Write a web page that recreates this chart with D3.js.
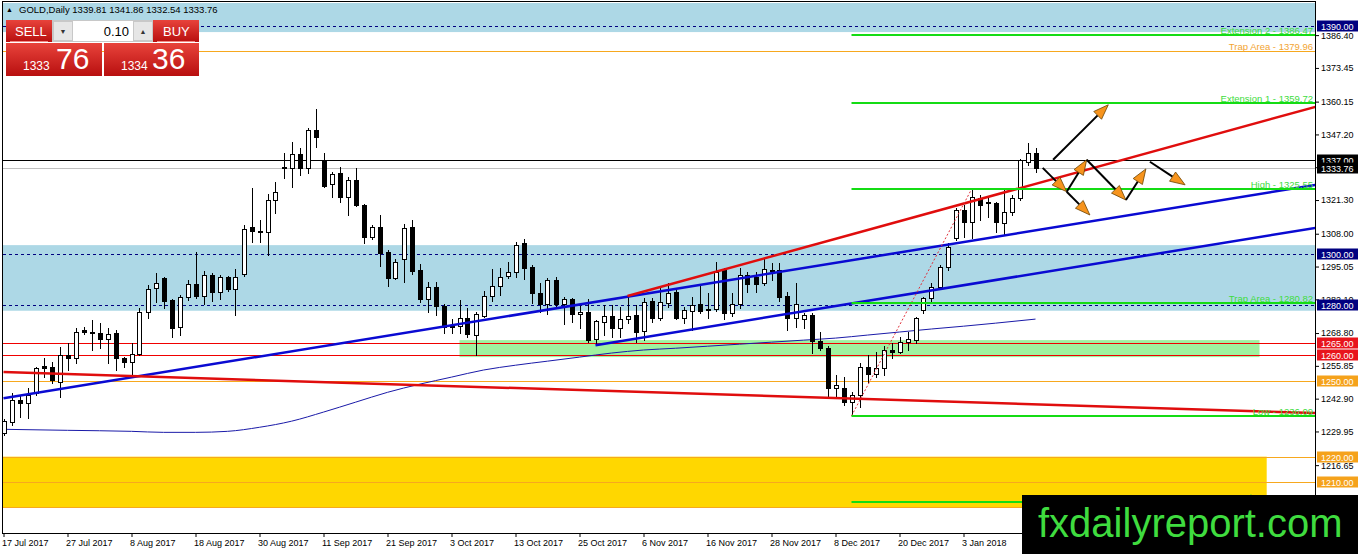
<!DOCTYPE html>
<html>
<head>
<meta charset="utf-8">
<script src="https://cdn.jsdelivr.net/npm/d3@7"></script>
<style>
html, body { margin: 0; padding: 0; background: #fff; }
svg { display: block; font-family: "Liberation Sans", Arial, sans-serif; }
</style>
</head>
<body>
<svg id="chart" width="1358" height="554"></svg>
<script>
var tickLabels = ["17 Jul 2017", "27 Jul 2017", "8 Aug 2017", "18 Aug 2017", "30 Aug 2017", "11 Sep 2017",
    "21 Sep 2017", "3 Oct 2017", "13 Oct 2017", "25 Oct 2017", "6 Nov 2017", "16 Nov 2017",
    "28 Nov 2017", "8 Dec 2017", "20 Dec 2017", "3 Jan 2018"];
var tickIndex = [0, 8, 16, 24, 32, 40, 48, 56, 64, 72, 80, 88, 96, 104, 112, 120];

var opens = [1229.2, 1233.6, 1242.3, 1241.1, 1245.1, 1255.7, 1255.3, 1249.4, 1260.1, 1258.9,
    1270.0, 1269.2, 1268.8, 1266.4, 1268.8, 1258.9, 1257.3, 1260.5, 1277.1, 1286.6,
    1290.5, 1281.8, 1271.1, 1283.0, 1288.1, 1283.4, 1291.7, 1285.0, 1290.9, 1286.2,
    1292.1, 1310.7, 1309.1, 1308.7, 1321.3, 1334.4, 1334.0, 1339.5, 1334.0, 1349.0,
    1336.8, 1327.7, 1332.0, 1322.5, 1329.3, 1319.4, 1306.7, 1310.7, 1300.8, 1290.5,
    1298.0, 1310.7, 1293.7, 1282.2, 1287.0, 1279.4, 1271.5, 1271.5, 1274.7, 1268.0,
    1275.5, 1283.4, 1287.4, 1291.3, 1292.9, 1304.3, 1294.9, 1284.6, 1280.2, 1289.7,
    1280.2, 1282.2, 1276.3, 1277.1, 1266.4, 1273.1, 1275.5, 1270.8, 1274.3, 1275.9,
    1269.6, 1281.4, 1274.7, 1280.6, 1285.0, 1274.7, 1277.5, 1280.2, 1278.3, 1278.3,
    1293.7, 1276.7, 1280.2, 1291.7, 1290.9, 1288.5, 1293.7, 1293.7, 1283.4, 1274.7,
    1274.3, 1275.9, 1265.6, 1262.8, 1247.0, 1247.0, 1241.5, 1244.3, 1255.3, 1252.6,
    1254.9, 1262.1, 1261.3, 1265.2, 1266.0, 1277.9, 1282.6, 1287.0, 1294.9, 1306.3,
    1317.4, 1312.7, 1322.1, 1320.6, 1320.2, 1312.3, 1316.6, 1322.1, 1336.4, 1339.81];
var highs = [1234.8, 1245.1, 1244.3, 1247.0, 1255.3, 1258.9, 1257.3, 1263.2, 1264.8, 1270.8,
    1271.2, 1273.9, 1272.7, 1270.8, 1270.0, 1259.3, 1264.8, 1278.7, 1287.7, 1292.5,
    1290.9, 1282.2, 1283.8, 1289.7, 1300.8, 1293.3, 1292.5, 1291.7, 1291.3, 1294.1,
    1311.5, 1326.1, 1313.4, 1323.7, 1328.5, 1339.9, 1344.3, 1341.9, 1349.8, 1357.3,
    1339.9, 1332.4, 1334.4, 1330.4, 1334.0, 1319.8, 1311.5, 1315.4, 1301.6, 1298.0,
    1311.9, 1313.4, 1296.0, 1288.9, 1288.9, 1280.2, 1274.3, 1281.8, 1278.7, 1277.1,
    1285.4, 1294.1, 1294.5, 1296.8, 1304.7, 1305.9, 1295.7, 1288.5, 1290.5, 1290.9,
    1283.0, 1282.6, 1279.8, 1282.2, 1273.9, 1279.8, 1279.8, 1279.1, 1283.8, 1279.8,
    1282.6, 1282.6, 1286.6, 1288.5, 1285.8, 1279.1, 1283.0, 1287.7, 1284.6, 1296.8,
    1294.5, 1284.6, 1294.5, 1292.9, 1292.9, 1298.4, 1296.4, 1296.4, 1285.0, 1288.5,
    1276.7, 1276.7, 1269.2, 1263.6, 1252.2, 1251.4, 1245.5, 1256.9, 1260.1, 1261.3,
    1263.6, 1264.8, 1267.2, 1269.2, 1275.1, 1283.0, 1288.5, 1295.7, 1304.3, 1318.2,
    1319.4, 1325.55, 1323.3, 1322.1, 1320.6, 1325.2, 1323.3, 1337.5, 1343.9, 1341.86];
var lows = [1228.5, 1232.4, 1235.6, 1235.2, 1244.3, 1251.4, 1249.0, 1243.5, 1254.2, 1256.9,
    1268.4, 1262.1, 1262.8, 1256.9, 1254.2, 1255.3, 1251.4, 1260.1, 1274.7, 1281.0,
    1278.7, 1267.2, 1268.0, 1281.8, 1282.6, 1280.2, 1281.4, 1282.2, 1285.4, 1275.9,
    1291.3, 1304.7, 1304.7, 1299.6, 1316.2, 1330.0, 1326.5, 1331.2, 1332.0, 1342.3,
    1326.5, 1322.5, 1320.6, 1315.4, 1319.0, 1304.3, 1305.9, 1295.3, 1287.4, 1290.1,
    1288.9, 1292.1, 1281.0, 1277.1, 1275.9, 1268.8, 1268.8, 1268.8, 1267.2, 1260.1,
    1275.1, 1281.4, 1283.8, 1290.5, 1290.9, 1290.1, 1280.6, 1277.1, 1276.3, 1278.7,
    1272.3, 1273.1, 1270.8, 1265.2, 1264.0, 1268.0, 1267.2, 1267.2, 1272.7, 1265.2,
    1266.0, 1273.1, 1273.9, 1279.1, 1274.3, 1272.7, 1270.0, 1276.7, 1274.7, 1277.5,
    1274.3, 1275.5, 1278.7, 1285.0, 1285.0, 1287.7, 1289.7, 1281.4, 1270.0, 1271.1,
    1270.8, 1260.9, 1262.1, 1243.5, 1243.5, 1240.3, 1236.09, 1239.5, 1249.4, 1251.4,
    1252.2, 1258.9, 1260.9, 1262.1, 1264.8, 1276.7, 1281.4, 1286.6, 1293.7, 1305.5,
    1306.7, 1306.3, 1313.4, 1314.6, 1308.7, 1307.5, 1315.4, 1321.3, 1335.2, 1332.54];
var closes = [1234.0, 1242.3, 1241.1, 1244.3, 1254.9, 1254.9, 1250.2, 1260.1, 1258.9, 1269.2,
    1269.2, 1268.8, 1266.4, 1268.4, 1258.9, 1257.3, 1260.5, 1277.1, 1286.2, 1288.5,
    1281.4, 1270.8, 1283.0, 1288.1, 1283.4, 1291.7, 1285.0, 1290.9, 1286.2, 1290.9,
    1309.9, 1309.1, 1308.7, 1321.3, 1324.5, 1334.0, 1339.5, 1334.0, 1349.0, 1346.2,
    1326.9, 1331.6, 1322.5, 1329.3, 1319.4, 1306.7, 1310.7, 1300.4, 1290.5, 1296.8,
    1310.3, 1293.3, 1282.2, 1287.0, 1279.4, 1271.1, 1271.1, 1274.7, 1268.4, 1276.3,
    1283.4, 1287.4, 1290.9, 1292.9, 1303.6, 1294.5, 1284.6, 1280.2, 1289.7, 1280.2,
    1282.2, 1276.3, 1277.1, 1266.0, 1273.5, 1275.5, 1270.8, 1274.3, 1275.5, 1269.2,
    1281.0, 1274.7, 1281.0, 1284.6, 1274.7, 1277.9, 1279.8, 1277.5, 1277.9, 1292.9,
    1276.7, 1280.2, 1291.7, 1288.1, 1288.1, 1294.1, 1293.3, 1283.0, 1274.7, 1280.2,
    1275.9, 1265.6, 1262.8, 1247.0, 1248.2, 1241.5, 1244.3, 1255.3, 1252.6, 1254.9,
    1262.1, 1261.3, 1265.2, 1266.4, 1274.7, 1282.6, 1287.0, 1294.9, 1302.8, 1317.4,
    1312.7, 1322.5, 1319.4, 1320.2, 1312.7, 1316.6, 1322.1, 1337.2, 1339.9, 1333.76];

var maIndex = [0, 8, 16, 20, 24, 28, 32, 36, 40, 44, 48, 52, 56, 60, 64, 68, 72, 76,
    80, 84, 88, 92, 96, 100, 104, 108, 112, 116, 120, 124, 129];
var maValues = [1230.8, 1230.4, 1230.0, 1229.6, 1229.6, 1230.0, 1231.6, 1234.0, 1237.6, 1241.5,
    1245.4, 1248.6, 1251.4, 1254.2, 1256.1, 1257.7, 1259.3, 1260.9, 1262.1, 1262.8,
    1263.6, 1264.4, 1265.2, 1266.0, 1266.8, 1268.0, 1269.2, 1270.4, 1271.5, 1272.7, 1274.3];

var priceTicks = [1386.40, 1373.45, 1360.15, 1347.20, 1334.25, 1321.30, 1308.00, 1295.05,
    1282.10, 1268.80, 1255.85, 1242.90, 1229.95, 1216.65, 1203.70];

var blueZones = [[1387.6, 1400.0], [1277.6, 1303.5]];
var greenZone = [1259.3, 1266.0], greenZoneBars = [57, 157];
var yellowZone = [1200, 1220], yellowZoneBars = [-1, 157.9];

var navyLevels = [1390, 1300, 1280];
var redLevels = [1265, 1260];
var orangeLevels = [1250, 1220, 1210];
var orangeLines = [1379.96, 1250, 1220, 1210, 1200];
var blackLevels = [1337.00];
var ask = 1334.36, lotSize = 0.10;

var fibLevels = [1386.47, 1359.72, 1325.55, 1280.82, 1236.09, 1201.92];
var fibNames = ["Extension 2", "Extension 1", "High", "Trap Area", "Low", "Extension 3"];
var trapName = "Trap Area", trapLevel = 1379.96;
var fibLow = [106, 1236.09], fibHigh = [121, 1325.55];

var blueLines = [[[0, 1243.1], [164, 1327.3]], [[74, 1264.0], [164, 1310.3]]];
var redLines = [[[78, 1283.4], [164, 1358.1]], [[0, 1253.4], [164, 1237.2]]];

var arrowsFrom = [[131.2, 1337.2], [129.9, 1334.0], [132.9, 1324.6], [132.9, 1324.6], [135.4, 1337.2], [140.3, 1321.3], [143.3, 1336.4]];
var arrowsTo = [[138.1, 1358.9], [132.9, 1324.6], [135.4, 1337.2], [135.8, 1315.4], [140.3, 1321.3], [142.8, 1333.6], [147.7, 1327.3]];

var svg = d3.select("#chart"),
    plotLeft = 3, plotRight = 1315, plotTop = 3, plotBottom = 533;

var x = d3.scaleLinear().domain([0, 164]).range([3.5, 1315.5]);
var y = d3.scaleLinear().domain([1300, 1390]).range([254, 26]);
var yFull = y.copy().domain([y.invert(plotBottom), y.invert(plotTop)]).range([plotBottom, plotTop]);

function py(v) { return Math.round(y(v)) + 0.5; }

svg.append("rect").attr("width", 1358).attr("height", 554).attr("fill", "#fff");

var defs = svg.append("defs");
defs.append("clipPath").attr("id", "plotClip")
    .append("rect").attr("x", plotLeft).attr("y", plotTop)
    .attr("width", plotRight - plotLeft).attr("height", plotBottom - plotTop);

var plot = svg.append("g").attr("clip-path", "url(#plotClip)");

// zones
plot.selectAll("rect.bluezone").data(blueZones).enter().append("rect")
    .attr("class", "bluezone")
    .attr("x", plotLeft).attr("width", plotRight - plotLeft)
    .attr("y", function (d) { return y(d[1]); })
    .attr("height", function (d) { return y(d[0]) - y(d[1]); })
    .attr("fill", "#add8e6");

plot.append("rect")
    .attr("x", plotLeft).attr("width", x(yellowZoneBars[1]) - plotLeft)
    .attr("y", y(yellowZone[1])).attr("height", y(yellowZone[0]) - y(yellowZone[1]))
    .attr("fill", "#ffd700");

plot.append("rect")
    .attr("x", x(greenZoneBars[0])).attr("width", x(greenZoneBars[1]) - x(greenZoneBars[0]))
    .attr("y", y(greenZone[1])).attr("height", y(greenZone[0]) - y(greenZone[1]))
    .attr("fill", "#9ff29f");

function hLines(values, color, dash) {
    plot.append("g").selectAll("line").data(values).enter().append("line")
        .attr("x1", plotLeft).attr("x2", plotRight)
        .attr("y1", py).attr("y2", py)
        .attr("stroke", color).attr("stroke-width", 1)
        .attr("stroke-dasharray", dash || null)
        .attr("shape-rendering", "crispEdges");
}

hLines(orangeLines, "#f7a81e");
hLines(redLevels, "#f00000");
hLines(navyLevels, "#000080", "3,3");
hLines(blackLevels, "#000");
hLines([closes[closes.length - 1]], "#c0c0c0");

// moving average
plot.append("path")
    .datum(d3.range(maIndex.length))
    .attr("fill", "none").attr("stroke", "#1a1aa8").attr("stroke-width", 1)
    .attr("d", d3.line()
        .x(function (i) { return x(maIndex[i]); })
        .y(function (i) { return y(maValues[i]); })
        .curve(d3.curveMonotoneX));

// candles
var bars = d3.range(closes.length).map(function (i) {
    return {i: i, o: opens[i], h: highs[i], l: lows[i], c: closes[i]};
});

var candles = plot.append("g").attr("shape-rendering", "crispEdges");

candles.selectAll("line").data(bars).enter().append("line")
    .attr("x1", function (d) { return Math.round(x(d.i)) + 0.5; })
    .attr("x2", function (d) { return Math.round(x(d.i)) + 0.5; })
    .attr("y1", function (d) { return Math.round(y(d.h)); })
    .attr("y2", function (d) { return Math.round(y(d.l)) + 1; })
    .attr("stroke", "#000");

candles.selectAll("rect").data(bars).enter().append("rect")
    .attr("x", function (d) { return Math.round(x(d.i)) - 2 + 0.5; })
    .attr("y", function (d) { return Math.round(y(Math.max(d.o, d.c))) + 0.5; })
    .attr("width", 4)
    .attr("height", function (d) {
        return Math.max(1, Math.round(y(Math.min(d.o, d.c))) - Math.round(y(Math.max(d.o, d.c))));
    })
    .attr("fill", function (d) { return d.c < d.o ? "#000" : "#fff"; })
    .attr("stroke", "#000");

// trend lines
function trend(lines, color) {
    plot.append("g").selectAll("line").data(lines).enter().append("line")
        .attr("x1", function (d) { return x(d[0][0]); })
        .attr("y1", function (d) { return y(d[0][1]); })
        .attr("x2", function (d) { return x(d[1][0]); })
        .attr("y2", function (d) { return y(d[1][1]); })
        .attr("stroke", color).attr("stroke-width", 2.5);
}
trend(blueLines, "#0a0ad2");
trend(redLines, "#e00d0d");

// fibonacci
plot.append("line")
    .attr("x1", x(fibLow[0])).attr("y1", y(fibLow[1]))
    .attr("x2", x(fibHigh[0])).attr("y2", y(fibHigh[1]))
    .attr("stroke", "#e0303a").attr("stroke-width", 1).attr("stroke-dasharray", "2,2");

var fib = plot.append("g");
fib.selectAll("line").data(fibLevels).enter().append("line")
    .attr("x1", x(fibLow[0])).attr("x2", plotRight)
    .attr("y1", function (d) { return Math.round(y(d)); })
    .attr("y2", function (d) { return Math.round(y(d)); })
    .attr("stroke", "#14dc14").attr("stroke-width", 2);

fib.selectAll("text").data(fibLevels).enter().append("text")
    .attr("x", plotRight - 2)
    .attr("y", function (d) { return Math.round(y(d)) - 1.5; })
    .attr("text-anchor", "end")
    .attr("font-size", 9.5)
    .attr("fill", "#3ddc3d")
    .text(function (d, i) { return fibNames[i] + " - " + d.toFixed(2); });

plot.append("text")
    .attr("x", plotRight - 2).attr("y", Math.round(y(trapLevel)) - 1.5)
    .attr("text-anchor", "end").attr("font-size", 9.5).attr("fill", "#f2a433")
    .text(trapName + " - " + trapLevel.toFixed(2));

// arrows
var arrows = plot.append("g");
arrowsFrom.forEach(function (a, k) {
    var b = arrowsTo[k],
        x1 = x(a[0]), y1 = y(a[1]), x2 = x(b[0]), y2 = y(b[1]),
        ang = Math.atan2(y2 - y1, x2 - x1),
        len = 15, half = 5.5,
        bx = x2 - len * Math.cos(ang), by = y2 - len * Math.sin(ang);
    arrows.append("line")
        .attr("x1", x1).attr("y1", y1).attr("x2", bx).attr("y2", by)
        .attr("stroke", "#000").attr("stroke-width", 2);
    arrows.append("path")
        .attr("d", "M" + x2 + "," + y2 +
            "L" + (bx + half * Math.sin(ang)) + "," + (by - half * Math.cos(ang)) +
            "L" + (bx - half * Math.sin(ang)) + "," + (by + half * Math.cos(ang)) + "Z")
        .attr("fill", "#f7941d").attr("stroke", "#6b4200").attr("stroke-width", 0.8);
});

// frame
var frame = svg.append("g").attr("stroke", "#000").attr("shape-rendering", "crispEdges");
frame.append("line").attr("x1", 2.5).attr("x2", 2.5).attr("y1", 1).attr("y2", plotBottom);
frame.append("line").attr("x1", 2).attr("x2", plotRight).attr("y1", 1.5).attr("y2", 1.5);
frame.append("line").attr("x1", plotRight + 0.5).attr("x2", plotRight + 0.5).attr("y1", 1).attr("y2", plotBottom + 1);

// price axis
var yAxis = d3.axisRight(yFull).tickValues(priceTicks).tickFormat(d3.format(".2f"))
    .tickSize(4).tickSizeOuter(0).tickPadding(2);
var ya = svg.append("g").attr("transform", "translate(" + plotRight + ",0)").call(yAxis);
ya.select(".domain").remove();
ya.attr("font-family", "'Liberation Sans', Arial, sans-serif").attr("font-size", 9);
ya.selectAll("text").attr("fill", "#000");

function marks(values, fill) {
    var g = svg.append("g").selectAll("g").data(values).enter().append("g")
        .attr("transform", function (d) { return "translate(0," + Math.round(y(d)) + ")"; });
    g.append("rect").attr("x", plotRight + 2).attr("y", -5.5).attr("width", 1358 - plotRight - 2).attr("height", 11)
        .attr("fill", fill);
    g.append("text").attr("x", plotRight + 6).attr("y", 3.5).attr("font-size", 9).attr("fill", "#fff")
        .text(function (d) { return d.toFixed(2); });
}
marks(navyLevels, "#000080");
marks(redLevels, "#e8141c");
marks(orangeLevels, "#f5a21b");
marks(blackLevels, "#000");
marks([closes[closes.length - 1]], "#000");

// time axis
var xAxis = d3.axisBottom(x).tickValues(tickIndex)
    .tickFormat(function (d, i) { return tickLabels[i]; })
    .tickSize(4).tickSizeOuter(0);
var xa = svg.append("g").attr("transform", "translate(0," + plotBottom + ")").call(xAxis);
xa.select(".domain").attr("d", "M2,0.5H" + (plotRight + 1) + "V0.5");
xa.attr("font-family", "'Liberation Sans', Arial, sans-serif").attr("font-size", 9);
xa.selectAll("text").attr("text-anchor", "start").attr("dx", -2).attr("fill", "#000");

// header
var last = bars[bars.length - 1];
svg.append("text").attr("x", 6).attr("y", 12).attr("font-size", 7).text("\u25B2");
svg.append("text").attr("x", 19).attr("y", 13).attr("font-size", 9.5).attr("fill", "#000")
    .text("GOLD,Daily  " + [last.o, last.h, last.l, last.c].map(function (v) { return v.toFixed(2); }).join(" "));

// one-click trading panel
var grad = defs.append("linearGradient").attr("id", "redGrad")
    .attr("x1", 0).attr("y1", 0).attr("x2", 0).attr("y2", 1);
grad.append("stop").attr("offset", "0%").attr("stop-color", "#e8433b");
grad.append("stop").attr("offset", "100%").attr("stop-color", "#b80f0f");

var panel = svg.append("g");
[[6, 20, 46, 22], [153, 20, 46, 22], [6, 43, 96, 33], [104, 43, 95, 33]].forEach(function (r) {
    panel.append("rect").attr("x", r[0]).attr("y", r[1]).attr("width", r[2]).attr("height", r[3])
        .attr("fill", "url(#redGrad)");
});
panel.append("rect").attr("x", 52.5).attr("y", 20.5).attr("width", 100).attr("height", 21)
    .attr("fill", "#fff").attr("stroke", "#c8c8c8");
[53.5, 133.5].forEach(function (bx, k) {
    panel.append("rect").attr("x", bx).attr("y", 21.5).attr("width", 19).attr("height", 19)
        .attr("fill", "#e6e6e6").attr("stroke", "#c8c8c8");
    panel.append("text").attr("x", bx + 9.5).attr("y", 34).attr("text-anchor", "middle")
        .attr("font-size", 7).attr("fill", "#333").text(k ? "\u25B2" : "\u25BC");
});
panel.append("text").attr("x", 129).attr("y", 36).attr("text-anchor", "end")
    .attr("font-size", 13).attr("fill", "#000").text(lotSize.toFixed(2));
panel.append("line").attr("x1", 10).attr("x2", 48).attr("y1", 41.5).attr("y2", 41.5)
    .attr("stroke", "#f08a84");
panel.append("line").attr("x1", 157).attr("x2", 195).attr("y1", 41.5).attr("y2", 41.5)
    .attr("stroke", "#f08a84");
panel.append("text").attr("x", 15).attr("y", 36).attr("font-size", 13).attr("fill", "#fff").text("SELL");
panel.append("text").attr("x", 163).attr("y", 36).attr("font-size", 13).attr("fill", "#fff").text("BUY");

function priceBox(p, xs, xb) {
    var s = p.toFixed(2).split(".");
    panel.append("text").attr("x", xs).attr("y", 70).attr("font-size", 12).attr("fill", "#fff").text(s[0]);
    panel.append("text").attr("x", xb).attr("y", 69).attr("font-size", 30).attr("fill", "#fff").text(s[1]);
}
priceBox(last.c, 23, 56);
priceBox(ask, 121, 152);

// watermark
svg.append("rect").attr("x", 1022).attr("y", 495).attr("width", 336).attr("height", 59).attr("fill", "#000");
svg.append("text").attr("x", 1038).attr("y", 537).attr("font-size", 40).attr("fill", "#3fdc3f")
    .text("fxdailyreport.com");
</script>
</body>
</html>
